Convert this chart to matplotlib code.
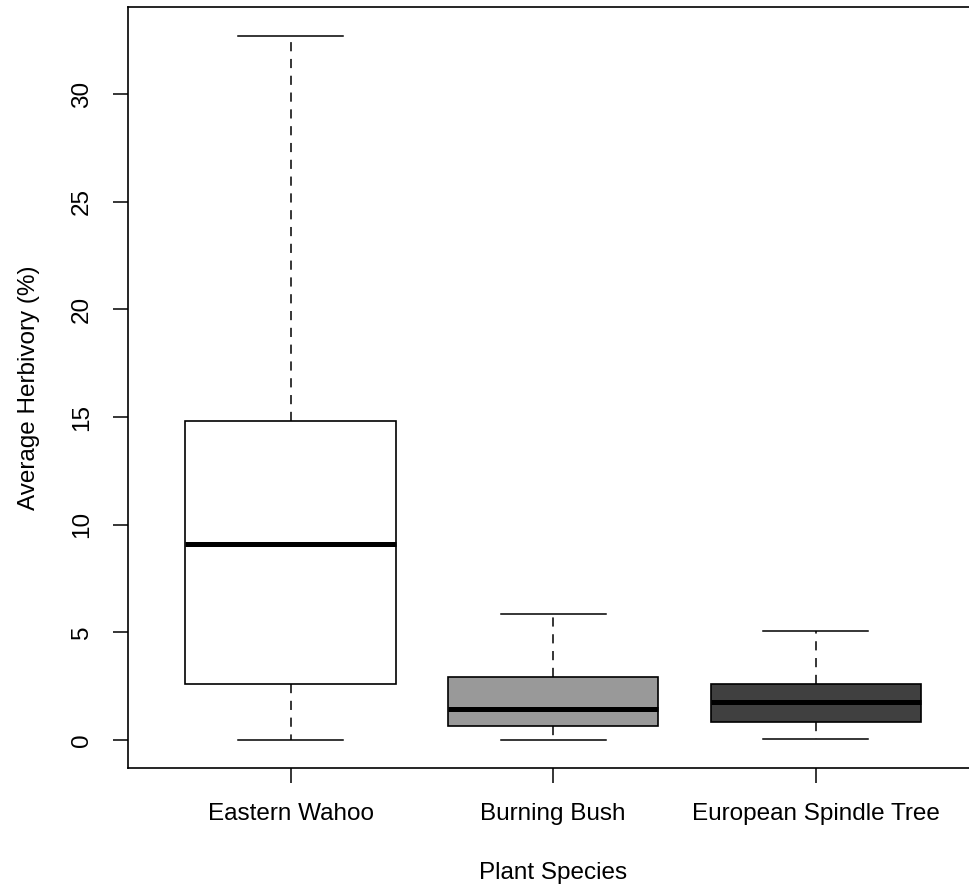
import matplotlib
matplotlib.use("Agg")
import matplotlib.pyplot as plt

plt.rcParams['font.family'] = ['Liberation Sans', 'DejaVu Sans']

species = ["Eastern Wahoo", "Burning Bush", "European Spindle Tree"]
whisker_low = [0.0, 0.0, 0.06]
q1 = [2.59, 0.66, 0.85]
median = [9.09, 1.43, 1.75]
q3 = [14.83, 2.91, 2.62]
whisker_high = [32.71, 5.84, 5.08]
fill_colors = ["#FFFFFF", "#999999", "#404040"]
yticks = [0, 5, 10, 15, 20, 25, 30]

fig = plt.figure(figsize=(9.69, 8.9), dpi=100)
ax = fig.add_axes([0.1318, 0.1367, 0.878, 0.855])

stats = []
for i, name in enumerate(species):
    stats.append(dict(label=name, whislo=whisker_low[i], q1=q1[i], med=median[i],
                      q3=q3[i], whishi=whisker_high[i], fliers=[]))

bp = ax.bxp(stats, positions=[1, 2, 3], widths=0.8, capwidths=0.4,
            patch_artist=True, showfliers=False,
            boxprops=dict(edgecolor="black", linewidth=1.2),
            medianprops=dict(color="black", linewidth=3.6, solid_capstyle="butt"),
            whiskerprops=dict(color="black", linewidth=1.1, linestyle=(0, (6, 5))),
            capprops=dict(color="black", linewidth=1.1))
for patch, c in zip(bp['boxes'], fill_colors):
    patch.set_facecolor(c)

ax.set_xlim(0.38, 3.62)
ax.set_ylim(-1.31, 34.02)
ax.set_yticks(yticks)
ax.set_yticklabels([str(t) for t in yticks], rotation=90, va="center")
ax.set_xticks([1, 2, 3])
ax.set_xticklabels(species)
ax.tick_params(axis="both", length=11, width=1.1, labelsize=17.5, pad=14)
ax.spines['right'].set_visible(False)
for s in ax.spines.values():
    s.set_linewidth(1.2)

ax.set_xlabel("Plant Species", fontsize=17.5)
ax.set_ylabel("Average Herbivory (%)", fontsize=17.5)
ax.xaxis.set_label_coords(0.5, -0.1376)
ax.yaxis.set_label_coords(-0.1166, 0.5)
ax.xaxis.label.set_va("center")
ax.yaxis.label.set_va("center")

fig.savefig("out.png", dpi=100)
